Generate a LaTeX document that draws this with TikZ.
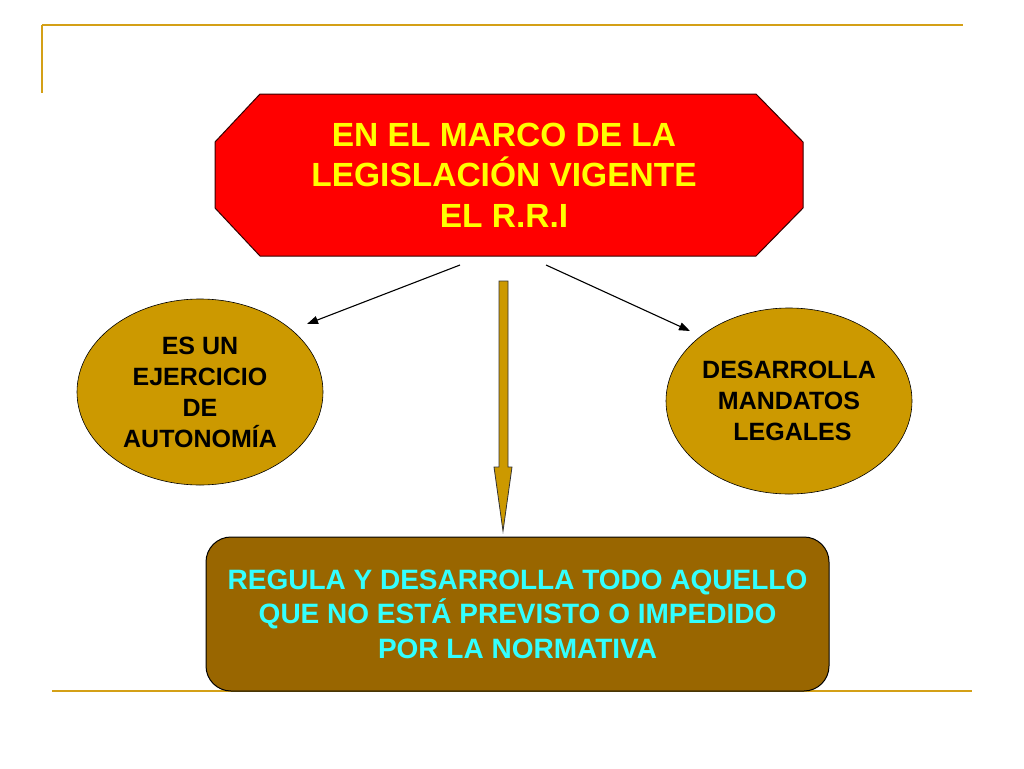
\documentclass[tikz,border=0pt]{standalone}
\usepackage{fontspec}
\setmainfont{Liberation Sans}
\usetikzlibrary{shapes.geometric,arrows.meta}
\definecolor{gold}{HTML}{D4A017}
\definecolor{ellfill}{HTML}{CC9900}
\definecolor{boxfill}{HTML}{996600}
\definecolor{cyantext}{HTML}{33FFFF}
\definecolor{yellowtext}{HTML}{FFFF00}
\tikzset{
  deco/.style={draw=gold, line width=2pt},
  ellnode/.style={ellipse, draw=black, line width=0.6pt, fill=ellfill, minimum width=246pt, minimum height=186pt, inner sep=0pt, align=center, font=\bfseries\fontsize{25}{31}\selectfont},
  conn/.style={draw=black, line width=1.1pt, -{Triangle[length=11pt,width=8pt]}},
}
\begin{document}
\begin{tikzpicture}[x=1pt,y=-1pt]
\useasboundingbox (0,0) rectangle (1024,768);
\fill[white] (0,0) rectangle (1024,768);
% decorative lines
\draw[deco] (42,25) -- (963,25);
\draw[deco] (42,25) -- (42,93);
\draw[deco] (52,691) -- (972,691);
% octagon
\draw[fill=red, draw=black!80!red, line width=1pt] (260,94) -- (756,94) -- (803,142) -- (803,208) -- (756,256) -- (260,256) -- (215,208) -- (215,142) -- cycle;
\node[align=center, text=yellowtext, font=\bfseries\fontsize{33.5}{40.5}\selectfont] (top) at (504,175) {EN EL MARCO DE LA\\LEGISLACIÓN VIGENTE\\EL R.R.I};
% ellipses
\node[ellnode] (left) at (200,392) {ES UN\\EJERCICIO\\DE\\AUTONOMÍA};
\node[ellnode] (right) at (789,401) {DESARROLLA\\MANDATOS\\\ LEGALES};
% bottom box
\node[draw=black, line width=1pt, fill=boxfill, rounded corners=25pt, minimum width=623pt, minimum height=154pt, align=center, text=cyantext, font=\bfseries\fontsize{28}{34.5}\selectfont] (bottom) at (517.5,614) {REGULA Y DESARROLLA TODO AQUELLO\\QUE NO ESTÁ PREVISTO O IMPEDIDO\\POR LA NORMATIVA};
% thin arrows
\coordinate (sl) at (460,265);
\coordinate (sr) at (546,265);
\coordinate (el) at (307,324);
\coordinate (er) at (690,331);
\draw[conn] (sl) -- (el);
\draw[conn] (sr) -- (er);
% big arrow
\draw[fill=ellfill, draw=black!80, line width=0.8pt] (499,281) -- (508,281) -- (508,467) -- (512,467) -- (503,531) -- (494,467) -- (499,467) -- cycle;
\end{tikzpicture}
\end{document}
